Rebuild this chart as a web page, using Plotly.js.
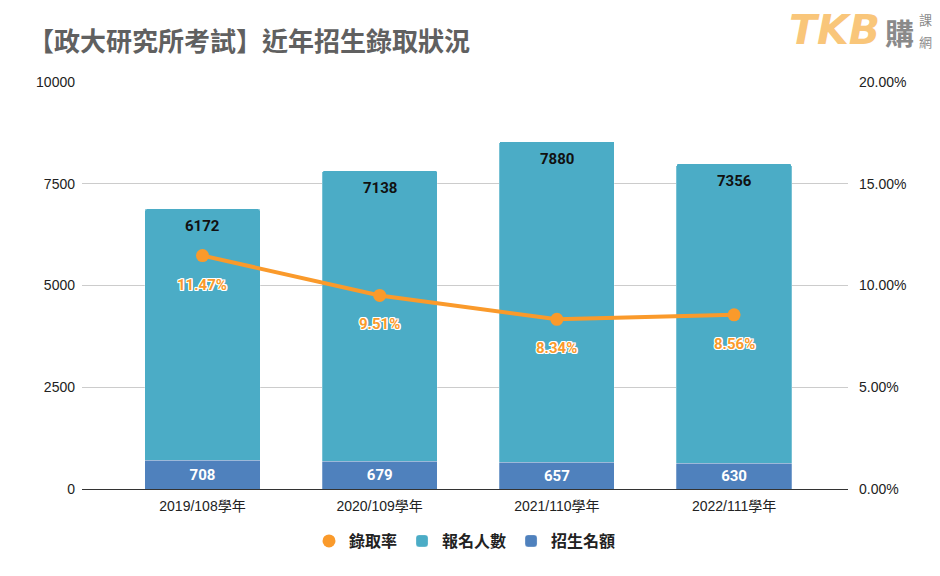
<!DOCTYPE html>
<html>
<head>
<meta charset="utf-8">
<script src="https://cdn.plot.ly/plotly-3.0.1.min.js"></script>
<style>html,body{margin:0;padding:0;background:#fff;}#chart{width:940px;height:576px;}</style>
</head>
<body>
<div id="chart"></div>
<script>
const categories = ['2019/108學年', '2020/109學年', '2021/110學年', '2022/111學年'];
const quota = [708, 679, 657, 630];          // 招生名額
const applicants = [6172, 7138, 7880, 7356]; // 報名人數
const rate = [0.1147, 0.0951, 0.0834, 0.0856]; // 錄取率
const rateLabels = ['11.47%', '9.51%', '8.34%', '8.56%'];
const leftTicks = [0, 2500, 5000, 7500, 10000];
const rightTicks = [0, 0.05, 0.1, 0.15, 0.2];

const ORANGE = '#FA9A2B';
const TEAL = '#4BACC6';
const BLUE = '#4F81BD';
const CJK = '"Noto Sans CJK TC", "Noto Sans", sans-serif';
const NUM = 'Roboto, "Noto Sans", sans-serif';
const TICK = '"Liberation Sans", Arial, "Noto Sans CJK TC", sans-serif';

const traces = [
  {
    type: 'bar', name: '招生名額', x: categories, y: quota,
    marker: {color: BLUE, line: {color: 'rgba(255,255,255,0.5)', width: 0.5}},
    text: quota.map(String), textposition: 'inside', insidetextanchor: 'middle',
    textfont: {family: NUM, size: 15, color: '#ffffff', weight: 'bold'},
    legendrank: 3, hoverinfo: 'skip'
  },
  {
    type: 'bar', name: '報名人數', x: categories, y: applicants,
    marker: {color: TEAL, line: {color: 'rgba(255,255,255,0.5)', width: 0.5}},
    textposition: 'none',
    legendrank: 2, hoverinfo: 'skip'
  },
  {
    type: 'scatter', mode: 'lines', name: '錄取率', x: categories, y: rate, yaxis: 'y2',
    line: {color: ORANGE, width: 4}, showlegend: false, legendgroup: 'rate', hoverinfo: 'skip'
  },
  {
    type: 'scatter', mode: 'markers', name: '錄取率', x: categories, y: rate, yaxis: 'y2',
    marker: {color: ORANGE, size: 13}, legendgroup: 'rate', legendrank: 1, hoverinfo: 'skip'
  }
];

const annotations = categories.map((c, i) => ({
  x: c, y: rate[i], xref: 'x', yref: 'y2', text: rateLabels[i], showarrow: false,
  yshift: -29,
  font: {family: NUM, size: 15, color: ORANGE, weight: 'bold',
         shadow: '1px 1px 0 #fff, -1px -1px 0 #fff, 1px -1px 0 #fff, -1px 1px 0 #fff, 0 1px 0 #fff, 0 -1px 0 #fff, 1px 0 0 #fff, -1px 0 0 #fff'}
}));

// 報名人數 labels near top of each stacked bar
categories.forEach((c, i) => annotations.push({
  x: c, y: quota[i] + applicants[i], xref: 'x', yref: 'y', text: String(applicants[i]),
  showarrow: false, yanchor: 'top', yshift: -6,
  font: {family: NUM, size: 15, color: '#111111', weight: 'bold'}
}));

// logo
annotations.push(
  {xref: 'paper', yref: 'paper', x: (787 - 82) / 766, y: (489 - 30) / 407, xanchor: 'left', yanchor: 'middle',
   text: '<b><i>TKB</i></b>', showarrow: false,
   font: {family: '"DejaVu Sans", sans-serif', size: 41, color: '#F9C67A'}},
  {xref: 'paper', yref: 'paper', x: (883 - 82) / 766, y: (489 - 32) / 407, xanchor: 'left', yanchor: 'middle',
   text: '<b>購</b>', showarrow: false,
   font: {family: CJK, size: 29, color: '#8a8a8a'}},
  {xref: 'paper', yref: 'paper', x: (917 - 82) / 766, y: (489 - 20) / 407, xanchor: 'left', yanchor: 'middle',
   text: '課', showarrow: false,
   font: {family: CJK, size: 13, color: '#8a8a8a'}},
  {xref: 'paper', yref: 'paper', x: (917 - 82) / 766, y: (489 - 41) / 407, xanchor: 'left', yanchor: 'middle',
   text: '網', showarrow: false,
   font: {family: CJK, size: 13, color: '#8a8a8a'}}
);

const layout = {
  width: 940, height: 576,
  margin: {l: 82, r: 92, t: 82, b: 87},
  paper_bgcolor: '#ffffff', plot_bgcolor: '#ffffff',
  barmode: 'stack', bargap: 0.35, barcornerradius: 2,
  title: {
    text: '<b>【政大研究所考試】近年招生錄取狀況</b>',
    x: 28 / 940, xanchor: 'left', xref: 'container',
    y: 1 - 42 / 576, yanchor: 'middle', yref: 'container',
    font: {family: CJK, size: 26, color: '#606060'}
  },
  xaxis: {
    type: 'category', range: [-0.68, 3.643],
    showgrid: false, showline: false, ticks: '', ticklabelstandoff: 7,
    tickfont: {family: TICK, size: 14, color: '#222222'}
  },
  yaxis: {
    range: [0, 10000], tickvals: leftTicks, tickformat: 'd',
    showgrid: true, gridcolor: '#cccccc', gridwidth: 1,
    zeroline: true, zerolinecolor: '#333333', zerolinewidth: 1,
    showline: false, ticks: '', ticklabelstandoff: 6,
    tickfont: {family: TICK, size: 14, color: '#222222'}
  },
  yaxis2: {
    overlaying: 'y', side: 'right', range: [0, 0.2], tickvals: rightTicks,
    tickformat: '.2%', showgrid: false, zeroline: false, showline: false, ticks: '', ticklabelstandoff: 10,
    tickfont: {family: TICK, size: 14, color: '#222222'}
  },
  legend: {
    orientation: 'h', x: 0.5, xanchor: 'center', y: (489 - 541) / 407, yanchor: 'middle',
    font: {family: CJK, size: 16, color: '#222222', weight: 'bold'},
    traceorder: 'normal', itemwidth: 30
  },
  annotations: annotations,
  showlegend: true
};

Plotly.newPlot('chart', traces, layout, {staticPlot: true, displayModeBar: false});
</script>
</body>
</html>
